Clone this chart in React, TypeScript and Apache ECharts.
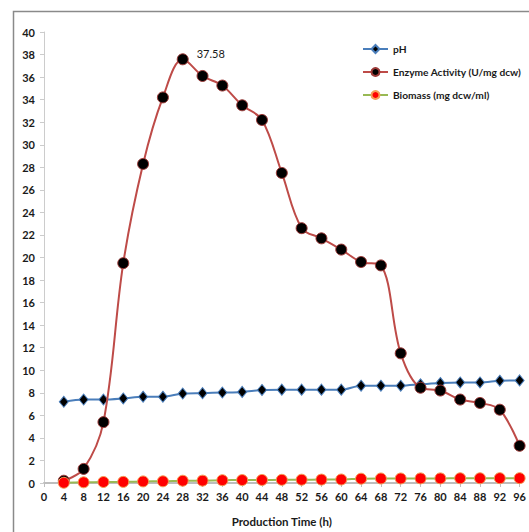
import React, { useEffect, useRef } from "react";
import * as echarts from "echarts";

// Sampling times (h)
const hours = [4, 8, 12, 16, 20, 24, 28, 32, 36, 40, 44, 48, 52, 56, 60, 64, 68, 72, 76, 80, 84, 88, 92, 96];

const phValues = [7.2, 7.4, 7.4, 7.5, 7.65, 7.65, 7.93, 7.97, 8.02, 8.08, 8.25, 8.28, 8.28, 8.28, 8.28, 8.63, 8.63, 8.63, 8.75, 8.87, 8.92, 8.92, 9.07, 9.1];

const enzymeValues = [0.2, 1.25, 5.4, 19.5, 28.3, 34.2, 37.58, 36.1, 35.25, 33.5, 32.2, 27.5, 22.6, 21.7, 20.7, 19.6, 19.3, 11.5, 8.45, 8.2, 7.4, 7.1, 6.5, 3.3];

const biomassValues = [0.02, 0.06, 0.09, 0.1, 0.14, 0.15, 0.2, 0.21, 0.25, 0.26, 0.27, 0.28, 0.29, 0.3, 0.31, 0.38, 0.4, 0.4, 0.41, 0.41, 0.42, 0.42, 0.43, 0.43];

const seriesNames = ["pH", "Enzyme Activity (U/mg dcw)", "Biomass (mg dcw/ml)"];
const peakLabel = "37.58";

const FONT = "Lato, 'Open Sans', sans-serif";

export default function App() {
  const ref = useRef<HTMLDivElement>(null);

  useEffect(() => {
    if (!ref.current) return;
    const chart = echarts.init(ref.current, undefined, { renderer: "svg" });

    const pair = (vals: number[]) => hours.map((h, i) => [h, vals[i]]);
    const peakIdx = enzymeValues.indexOf(Math.max(...enzymeValues));

    chart.setOption({
      animation: false,
      backgroundColor: "#ffffff",
      textStyle: { fontFamily: FONT },
      graphic: [
        {
          // chart-area border, open at the right and bottom edges
          type: "polyline",
          shape: { points: [[13.5, 540], [13.5, 11.5], [540, 11.5]] },
          style: { fill: "none", stroke: "#8a8a8a", lineWidth: 1.5 },
          silent: true,
          z: 0,
        },
      ],
      grid: { left: 44, right: 5, top: 32, bottom: 42, containLabel: false },
      legend: {
        orient: "vertical",
        left: 357,
        top: 39,
        itemWidth: 25,
        itemHeight: 10,
        itemGap: 13,
        data: seriesNames,
        textStyle: { fontFamily: FONT, fontSize: 10.2, fontWeight: "bold", color: "#1a1a1a" },
      },
      xAxis: {
        type: "value",
        min: 0,
        max: 96,
        interval: 4,
        name: "Production Time (h)",
        nameLocation: "middle",
        nameGap: 32,
        nameTextStyle: { fontFamily: FONT, fontSize: 11.5, fontWeight: "bold", color: "#1a1a1a" },
        axisLine: { show: true, lineStyle: { color: "#bdbdbd", width: 2 } },
        axisTick: { show: true, length: 4, lineStyle: { color: "#bdbdbd" } },
        axisLabel: { fontFamily: FONT, fontSize: 11, fontWeight: "bold", color: "#1a1a1a", margin: 8 },
        splitLine: { show: false },
      },
      yAxis: {
        type: "value",
        min: 0,
        max: 40,
        interval: 2,
        axisLine: { show: true, lineStyle: { color: "#cccccc", width: 1 } },
        axisTick: { show: true, length: 4, lineStyle: { color: "#cccccc" } },
        axisLabel: { fontFamily: FONT, fontSize: 11, fontWeight: "bold", color: "#1a1a1a", margin: 9 },
        splitLine: { show: false },
      },
      series: [
        {
          name: seriesNames[0],
          type: "line",
          data: pair(phValues),
          smooth: 0.3,
          symbol: "diamond",
          symbolSize: [9, 11],
          lineStyle: { color: "#4a7ebb", width: 2 },
          itemStyle: { color: "#000000", borderColor: "#4a7ebb", borderWidth: 1 },
          z: 3,
        },
        {
          name: seriesNames[1],
          type: "line",
          data: pair(enzymeValues).map((p, i) =>
            i === peakIdx
              ? {
                  value: p,
                  label: {
                    show: true,
                    position: "right",
                    distance: 8,
                    offset: [0, -6],
                    formatter: peakLabel,
                    fontFamily: FONT,
                    fontSize: 11,
                    color: "#1a1a1a",
                  },
                }
              : p
          ),
          smooth: 0.35,
          symbol: "circle",
          symbolSize: 11,
          lineStyle: { color: "#be4b48", width: 2 },
          itemStyle: { color: "#000000", borderColor: "#9c3a38", borderWidth: 1 },
          z: 4,
        },
        {
          name: seriesNames[2],
          type: "line",
          data: pair(biomassValues),
          smooth: 0.3,
          symbol: "circle",
          symbolSize: 11,
          lineStyle: { color: "#98b954", width: 2 },
          itemStyle: { color: "#ff0000", borderColor: "#f59d56", borderWidth: 1 },
          z: 5,
        },
      ],
    });

    return () => chart.dispose();
  }, []);

  return (
    <div
      ref={ref}
      style={{ position: "fixed", left: 0, top: 0, width: 529, height: 532 }}
    />
  );
}
